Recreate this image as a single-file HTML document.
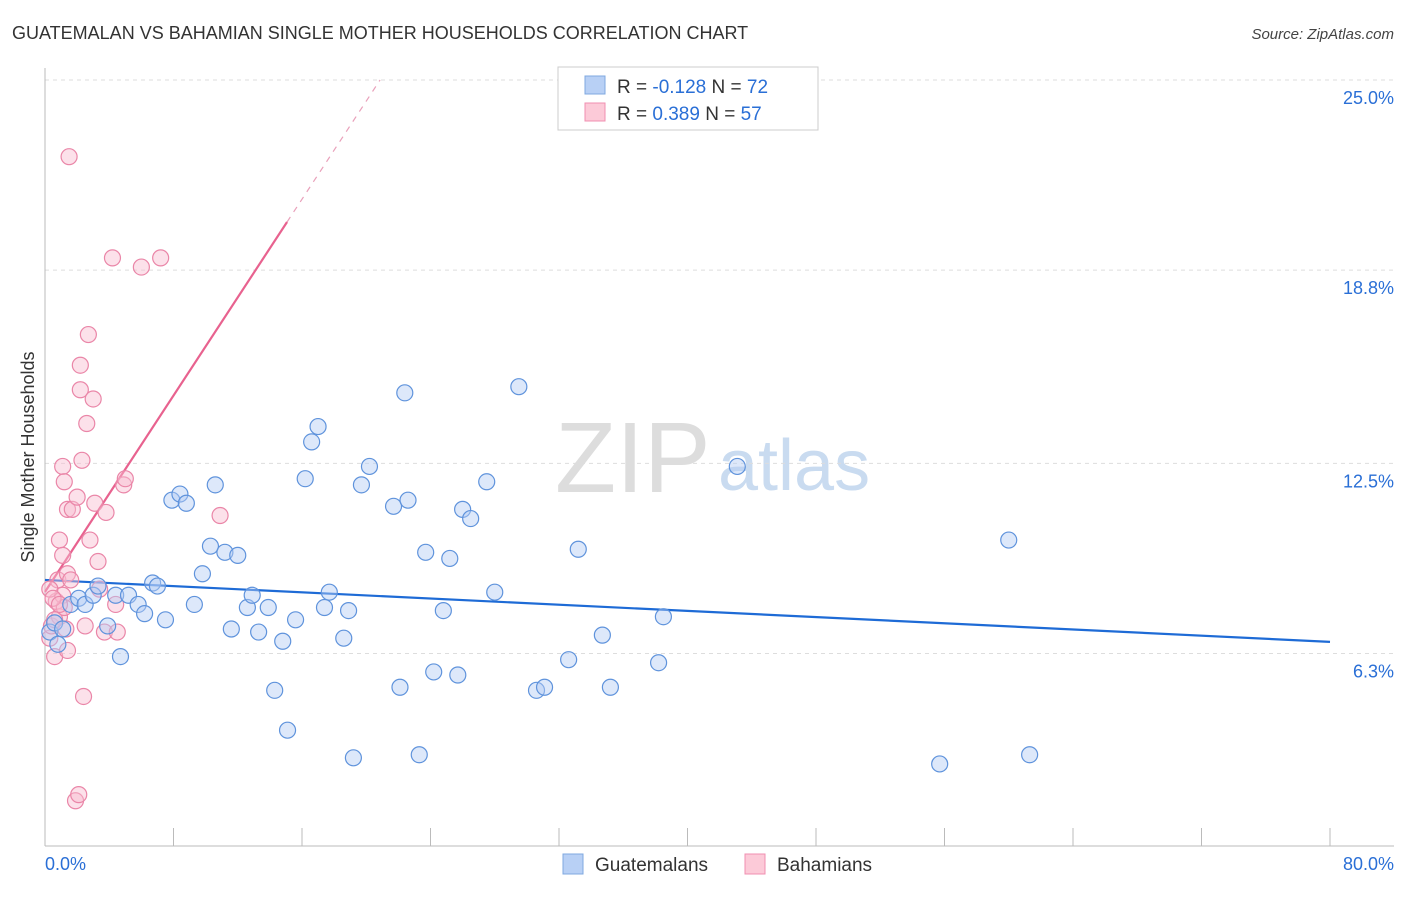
<!DOCTYPE html>
<html><head><meta charset="utf-8"><style>
body{margin:0;background:#fff;font-family:"Liberation Sans",sans-serif;}
svg text{font-family:"Liberation Sans",sans-serif;}
</style></head><body>
<svg id="chart" width="1406" height="892" viewBox="0 0 1406 892" xmlns="http://www.w3.org/2000/svg">
<text x="12" y="39" font-size="18" fill="#333">GUATEMALAN VS BAHAMIAN SINGLE MOTHER HOUSEHOLDS CORRELATION CHART</text>
<text x="1394" y="39" font-size="15" fill="#444" text-anchor="end" font-style="italic">Source: ZipAtlas.com</text>
<text x="555" y="492" font-size="100" fill="#ddd" font-family="Liberation Serif, serif">ZIP</text>
<text x="718" y="490" font-size="72" fill="#c9dbf0">atlas</text>
<text transform="translate(34,457) rotate(-90)" font-size="18" fill="#333" text-anchor="middle">Single Mother Households</text>
<g id="grid"></g><g id="axes"></g><g id="trends"></g><g id="points"></g>
<g>
<rect x="558" y="67" width="260" height="63" fill="#fff" stroke="#ccc"/>
<rect x="585" y="76" width="20" height="18" fill="#b8d0f5" stroke="#7fa8e0"/>
<rect x="585" y="103" width="20" height="18" fill="#fccad8" stroke="#f08fb0"/>
<text x="617" y="93" font-size="19" fill="#333">R = <tspan fill="#2a6fd6">-0.128</tspan>   N = <tspan fill="#2a6fd6">72</tspan></text>
<text x="617" y="120" font-size="19" fill="#333">R =  <tspan fill="#2a6fd6">0.389</tspan>   N = <tspan fill="#2a6fd6">57</tspan></text>
</g>
<g>
<rect x="563" y="854" width="20" height="20" fill="#b8d0f5" stroke="#7fa8e0"/>
<text x="595" y="871" font-size="19" fill="#333">Guatemalans</text>
<rect x="745" y="854" width="20" height="20" fill="#fccad8" stroke="#f08fb0"/>
<text x="777" y="871" font-size="19" fill="#333">Bahamians</text>
</g>
</svg>
<script>
const yTicks=[25.0,18.8,12.5,6.3];
const yTickLabels=["25.0%","18.8%","12.5%","6.3%"];
const xTickLabels=["0.0%","80.0%"];
const blueX=[0.3,0.6,0.8,1.1,1.6,2.1,2.5,3.0,3.3,3.9,4.4,4.7,5.2,5.8,6.2,6.7,7.0,7.5,7.9,8.4,8.8,9.3,9.8,10.3,10.6,11.2,11.6,12.0,12.6,12.9,13.3,13.9,14.3,14.8,15.1,15.6,16.2,16.6,17.0,17.4,17.7,18.6,18.9,19.2,19.7,20.2,21.7,22.1,22.4,22.6,23.3,23.7,24.2,24.8,25.2,25.7,26.0,26.5,27.5,28.0,29.5,30.6,31.1,32.6,33.2,34.7,35.2,38.2,38.5,43.1,55.7,60.0,61.3];
const blueY=[7.0,7.3,6.6,7.1,7.9,8.1,7.9,8.2,8.5,7.2,8.2,6.2,8.2,7.9,7.6,8.6,8.5,7.4,11.3,11.5,11.2,7.9,8.9,9.8,11.8,9.6,7.1,9.5,7.8,8.2,7.0,7.8,5.1,6.7,3.8,7.4,12.0,13.2,13.7,7.8,8.3,6.8,7.7,2.9,11.8,12.4,11.1,5.2,14.8,11.3,3.0,9.6,5.7,7.7,9.4,5.6,11.0,10.7,11.9,8.3,15.0,5.1,5.2,6.1,9.7,6.9,5.2,6.0,7.5,12.4,2.7,10.0,3.0];
const pinkX=[0.3,0.4,0.6,0.7,0.8,0.9,1.1,1.2,1.3,1.4,0.9,1.1,1.1,1.2,1.4,1.4,1.6,1.5,1.7,1.9,2.0,2.1,2.2,2.2,2.3,2.4,2.5,2.6,2.7,2.8,3.0,3.1,3.3,3.4,3.7,3.8,4.2,4.4,4.5,4.9,5.0,6.0,7.2,10.9,0.3,0.5,0.6,0.9];
const pinkY=[6.8,7.2,6.2,8.0,8.7,7.5,8.2,7.8,7.1,6.4,10.0,9.5,12.4,11.9,11.0,8.9,8.7,22.5,11.0,1.5,11.4,1.7,14.9,15.7,12.6,4.9,7.2,13.8,16.7,10.0,14.6,11.2,9.3,8.4,7.0,10.9,19.2,7.9,7.0,11.8,12.0,18.9,19.2,10.8,8.4,8.1,7.4,7.9];
const blueTrend=[[0,8.70],[80,6.68]];
const pinkTrend=[[0,8.31],[15.07,20.37]];
const pinkDash=[[15.07,20.37],[20.86,25.0]];
const X0=45,X1=1330,Y0=80,PPY=30.67;
function sx(v){return X0+(X1-X0)*v/80;}
function sy(v){return Y0+(25-v)*PPY;}
const NS="http://www.w3.org/2000/svg";
function mk(tag,attrs,parent){const e=document.createElementNS(NS,tag);for(const k in attrs)e.setAttribute(k,attrs[k]);parent.appendChild(e);return e;}
const grid=document.getElementById('grid'),axes=document.getElementById('axes'),trends=document.getElementById('trends'),pts=document.getElementById('points');
yTicks.forEach((t,i)=>{
 const l=mk('line',{x1:45,x2:1394,y1:sy(t),y2:sy(t),stroke:'#ddd','stroke-dasharray':'4,4'},grid);
 
 
 const tx=mk('text',{x:1394,y:sy(t)+24,'font-size':18,fill:'#2a6fd6','text-anchor':'end'},grid);
 tx.textContent=yTickLabels[i];
 
 
});
const ya=mk('line',{x1:45,x2:45,y1:68,y2:846,stroke:'#bbb'},axes);


const xa=mk('line',{x1:45,x2:1394,y1:846,y2:846,stroke:'#bbb'},axes);


for(let i=1;i<=10;i++){
 const x=X0+i*(X1-X0)/10;
 const t=mk('line',{x1:x,x2:x,y1:828,y2:846,stroke:'#bbb'},axes);
 
 
}
[[0,'start',45],[80,'end',1394]].forEach((d,i)=>{
 const t=mk('text',{x:d[2],y:870,'font-size':18,fill:'#2a6fd6','text-anchor':d[1]},axes);
 t.textContent=xTickLabels[i];
 
 
});
function drawPts(xs,ys,fill,stroke,name){
 xs.forEach((x,i)=>{
  const c=mk('circle',{cx:sx(x),cy:sy(ys[i]),r:8,fill:fill,'fill-opacity':0.45,stroke:stroke,'stroke-width':1.2},pts);
  
  
 });
}
drawPts(pinkX,pinkY,'#f9bcd0','#ea86a8','bahamian-point');
drawPts(blueX,blueY,'#b3cdf3','#5f93dc','guatemalan-point');
function line(p,stroke,dash,name,w){
 const l=mk('line',{x1:sx(p[0][0]),y1:sy(p[0][1]),x2:sx(p[1][0]),y2:sy(p[1][1]),stroke:stroke,'stroke-width':w},trends);
 if(dash)l.setAttribute('stroke-dasharray',dash);
 
 
}
line(blueTrend,'#1e6bd6',null,'guatemalan-trend-line',2.2);
line(pinkTrend,'#e8628f',null,'bahamian-trend-line',2.2);
line(pinkDash,'#e9a0ba','6,6','bahamian-trend-extension',1.2);
</script>
</body></html>
